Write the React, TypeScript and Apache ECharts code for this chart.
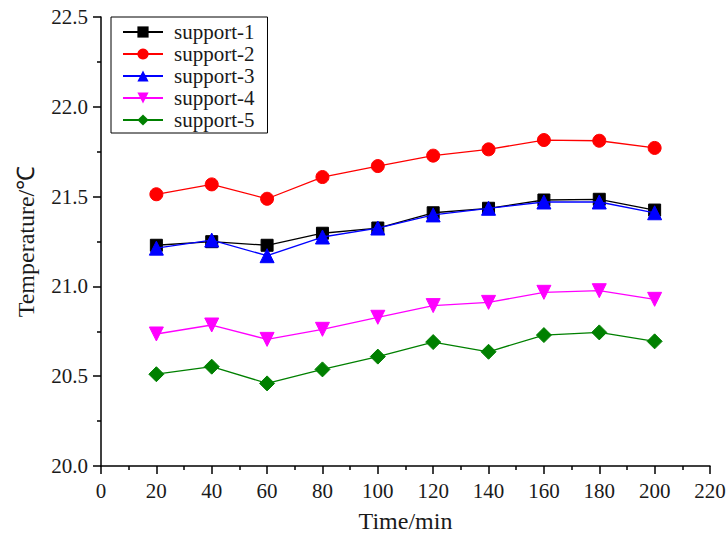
import React, { useEffect, useRef } from "react";
import * as echarts from "echarts";

const times = [20, 40, 60, 80, 100, 120, 140, 160, 180, 200];
const support1 = [21.229, 21.249, 21.229, 21.296, 21.325, 21.41, 21.435, 21.481, 21.485, 21.425];
const support2 = [21.513, 21.568, 21.488, 21.609, 21.67, 21.728, 21.763, 21.815, 21.811, 21.771];
const support3 = [21.213, 21.258, 21.171, 21.275, 21.325, 21.398, 21.435, 21.47, 21.47, 21.41];
const support4 = [20.735, 20.785, 20.705, 20.761, 20.828, 20.893, 20.911, 20.967, 20.976, 20.928];
const support5 = [20.511, 20.553, 20.46, 20.538, 20.609, 20.69, 20.636, 20.729, 20.744, 20.694];

const seriesNames = ["support-1", "support-2", "support-3", "support-4", "support-5"];
const seriesData = [support1, support2, support3, support4, support5];
const colors = ["#000000", "#ff0000", "#0000ff", "#ff00ff", "#008000"];
const symbols = ["rect", "circle", "triangle", "triangle", "diamond"];
const symbolSizes = [12, 13, 14, 14, 15];
const symbolRotates = [0, 0, 0, 180, 0];

const FONT = "Liberation Serif";

export default function App() {
  const ref = useRef<HTMLDivElement>(null);
  useEffect(() => {
    if (!ref.current) return;
    const chart = echarts.init(ref.current, undefined, { renderer: "svg" });
    chart.setOption({
      animation: false,
      backgroundColor: "#ffffff",
      textStyle: { fontFamily: FONT },
      grid: { left: 101, right: 16, top: 17, bottom: 68, containLabel: false, outerBoundsMode: "none" },
      legend: {
        orient: "vertical",
        left: 111,
        top: 17,
        padding: [4, 13, 2, 11],
        itemWidth: 40,
        itemHeight: 14,
        itemGap: 0,
        borderColor: "#000",
        borderWidth: 1,
        backgroundColor: "#fff",
        data: seriesNames,
        textStyle: {
          fontFamily: FONT,
          fontSize: 21,
          color: "#1a1a1a",
          lineHeight: 22,
          padding: [0, 0, 0, 6],
        },
      },
      xAxis: {
        type: "value",
        min: 0,
        max: 220,
        interval: 20,
        name: "Time/min",
        nameLocation: "middle",
        nameGap: 43,
        nameTextStyle: { fontFamily: FONT, fontSize: 24, color: "#1a1a1a" },
        axisLine: { show: true, onZero: false, lineStyle: { color: "#000", width: 1.5 } },
        axisTick: { show: true, inside: false, length: 8, lineStyle: { color: "#000", width: 1.5 } },
        minorTick: { show: true, splitNumber: 2, length: 4, lineStyle: { color: "#000", width: 1.5 } },
        axisLabel: { fontFamily: FONT, fontSize: 21, color: "#1a1a1a", margin: 14 },
        splitLine: { show: false },
      },
      yAxis: {
        type: "value",
        min: 20,
        max: 22.5,
        interval: 0.5,
        name: "Temperature/℃",
        nameLocation: "middle",
        nameGap: 63,
        nameTextStyle: { fontFamily: FONT, fontSize: 24, color: "#1a1a1a" },
        axisLine: { show: true, onZero: false, lineStyle: { color: "#000", width: 1.5 } },
        axisTick: { show: true, inside: false, length: 8, lineStyle: { color: "#000", width: 1.5 } },
        minorTick: { show: true, splitNumber: 2, length: 4, lineStyle: { color: "#000", width: 1.5 } },
        axisLabel: {
          fontFamily: FONT,
          fontSize: 21,
          color: "#1a1a1a",
          margin: 13,
          formatter: (v: number) => v.toFixed(1),
        },
        splitLine: { show: false },
      },
      series: seriesNames.map((name, i) => ({
        name,
        type: "line",
        data: times.map((t, j) => [t, seriesData[i][j]]),
        symbol: symbols[i],
        symbolSize: symbolSizes[i],
        symbolRotate: symbolRotates[i],
        showAllSymbol: true,
        lineStyle: { color: colors[i], width: 1.3 },
        itemStyle: { color: colors[i], borderColor: colors[i] },
        z: 2 + i,
      })),
    });
    return () => chart.dispose();
  }, []);
  return (
    <div
      ref={ref}
      style={{ position: "fixed", left: 0, top: 0, width: 726, height: 534, background: "#fff" }}
    />
  );
}
